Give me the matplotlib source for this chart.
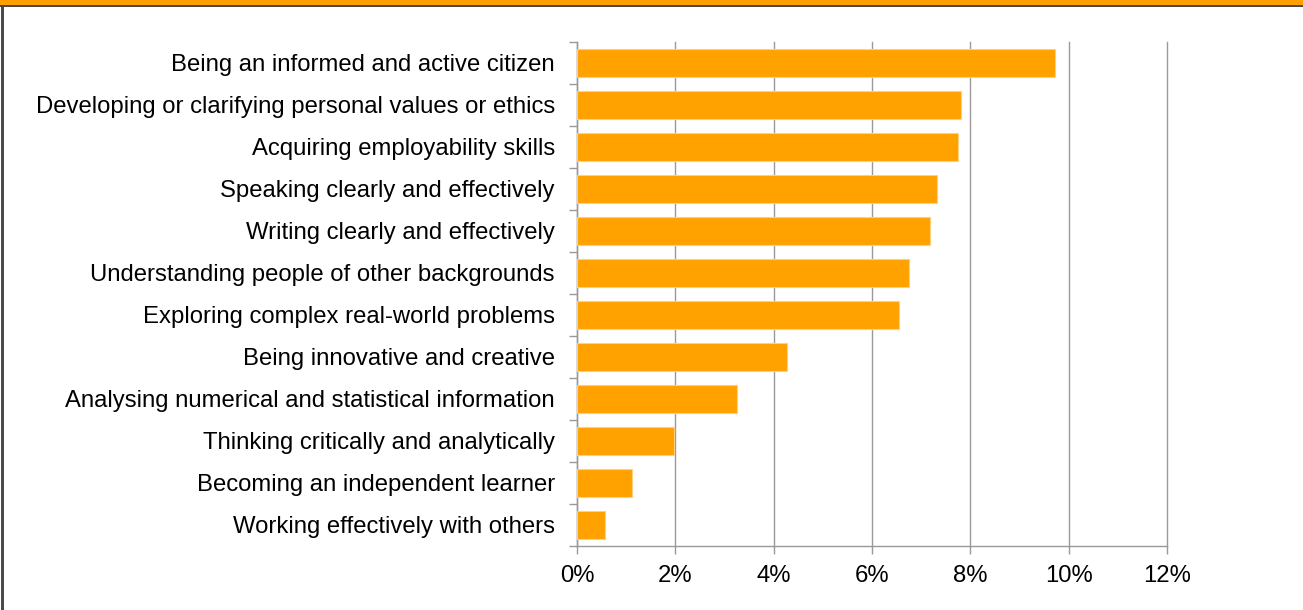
import matplotlib.pyplot as plt
from matplotlib.patches import Rectangle
from matplotlib.ticker import FuncFormatter

plt.rcParams['font.family'] = ['Liberation Sans', 'DejaVu Sans']

skills = [
    'Being an informed and active citizen',
    'Developing or clarifying personal values or ethics',
    'Acquiring employability skills',
    'Speaking clearly and effectively',
    'Writing clearly and effectively',
    'Understanding people of other backgrounds',
    'Exploring complex real-world problems',
    'Being innovative and creative',
    'Analysing numerical and statistical information',
    'Thinking critically and analytically',
    'Becoming an independent learner',
    'Working effectively with others',
]
share = [9.72, 7.80, 7.74, 7.32, 7.18, 6.76, 6.54, 4.28, 3.25, 1.97, 1.12, 0.56]

W, H = 1303, 610
fig = plt.figure(figsize=(W / 100, H / 100), dpi=100)
ax = fig.add_axes([577 / W, 1 - 546 / H, (1167 - 577) / W, (546 - 42) / H])

# header strip and frame
fig.patches.append(Rectangle((0, 1 - 5 / H), 1, 5 / H, transform=fig.transFigure,
                             facecolor='#FFA000', edgecolor='none'))
fig.patches.append(Rectangle((0, 1 - 7 / H), 1, 2 / H, transform=fig.transFigure,
                             facecolor='#4a4a4a', edgecolor='none'))
fig.patches.append(Rectangle((1 / W, 0), 3 / W, 1 - 5 / H, transform=fig.transFigure,
                             facecolor='#4a4a4a', edgecolor='none'))

ypos = list(range(len(skills)))
ax.barh(ypos, share, height=0.67, color='#FFA200', edgecolor='#FFD080',
        linewidth=0.8, zorder=3)

ax.set_xlim(0, 12)
ax.set_ylim(len(skills) - 0.5, -0.5)
ax.set_xticks(range(0, 13, 2))
ax.xaxis.set_major_formatter(FuncFormatter(lambda v, p: f'{v:.0f}%'))
ax.set_yticks(ypos)
ax.set_yticklabels(skills)
ax.set_yticks([i - 0.5 for i in range(len(skills) + 1)], minor=True)

ax.tick_params(axis='y', which='major', length=0, pad=16, labelsize=17.2)
ax.tick_params(axis='y', which='minor', length=6, color='#999999', width=1)
ax.tick_params(axis='x', length=6, color='#999999', width=1, pad=8, labelsize=17.2)

ax.grid(axis='x', color='#999999', linewidth=1, zorder=0)
for line in ax.get_xgridlines():
    line.set_clip_on(False)
for s in ('top', 'right'):
    ax.spines[s].set_visible(False)
for s in ('left', 'bottom'):
    ax.spines[s].set_color('#999999')
    ax.spines[s].set_linewidth(1)

fig.savefig('out.png', dpi=100)
